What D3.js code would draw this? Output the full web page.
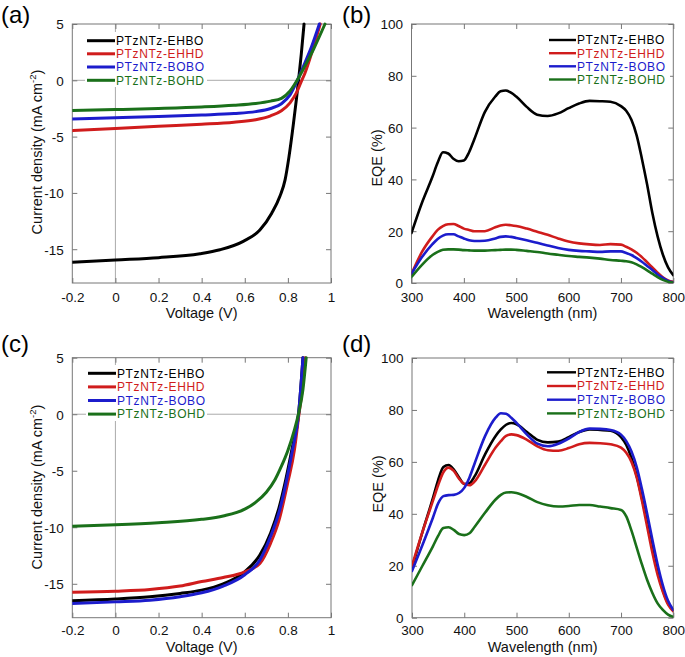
<!DOCTYPE html>
<html>
<head>
<meta charset="utf-8">
<script src="https://cdn.jsdelivr.net/npm/d3@7/dist/d3.min.js"></script>
<style>
  html, body { margin: 0; padding: 0; background: #fff; }
  svg { display: block; font-family: "Liberation Sans", Arial, Helvetica, sans-serif; }
</style>
</head>
<body>
<svg id="chart" width="685" height="657"></svg>
<script>
// ---------------- DATA ----------------
const seriesNames = ["PTzNTz-EHBO", "PTzNTz-EHHD", "PTzNTz-BOBO", "PTzNTz-BOHD"];
const seriesColors = ["#000000", "#d01c1c", "#1c1ccc", "#1a701a"];

// J-V axes
const jvXTicks = [-0.2, 0, 0.2, 0.4, 0.6, 0.8, 1];
const jvXTickLabels = ["-0.2", "0", "0.2", "0.4", "0.6", "0.8", "1"];
const jvYTicks = [-15, -10, -5, 0, 5];
const jvYTickLabels = ["-15", "-10", "-5", "0", "5"];

// Panel (a) J-V curves
const aEHBO_V = [-0.2, 0, 0.2, 0.392, 0.485, 0.593, 0.67, 0.725, 0.763, 0.787, 0.805, 0.825, 0.84, 0.85, 0.862, 0.875];
const aEHBO_J = [-16.15, -15.95, -15.75, -15.4, -15.05, -14.3, -13.3, -11.8, -10.3, -8.84, -6.8, -3.96, -1.6, 0.1, 2.3, 5.0];
const aEHHD_V = [-0.2, 0, 0.2, 0.4, 0.55, 0.65, 0.72, 0.77, 0.81, 0.84, 0.86, 0.879, 0.91, 0.95];
const aEHHD_J = [-4.47, -4.27, -4.08, -3.9, -3.72, -3.5, -3.15, -2.7, -2.0, -1.1, -0.2, 0.63, 2.4, 5.0];
const aBOBO_V = [-0.2, 0, 0.2, 0.4, 0.55, 0.65, 0.72, 0.77, 0.81, 0.848, 0.88, 0.91, 0.946];
const aBOBO_J = [-3.43, -3.33, -3.22, -3.08, -2.95, -2.78, -2.5, -2.08, -1.3, 0.17, 1.6, 3.0, 5.0];
const aBOHD_V = [-0.2, 0, 0.2, 0.4, 0.55, 0.65, 0.72, 0.77, 0.81, 0.848, 0.88, 0.92, 0.972];
const aBOHD_J = [-2.69, -2.6, -2.5, -2.37, -2.22, -2.06, -1.85, -1.6, -0.95, 0.17, 1.3, 2.8, 5.0];

// Panel (c) J-V curves
const cEHBO_V = [-0.2, 0, 0.16, 0.3, 0.4, 0.5, 0.6, 0.67, 0.72, 0.76, 0.79, 0.82, 0.85, 0.87];
const cEHBO_J = [-16.5, -16.35, -16.15, -15.85, -15.56, -15.0, -13.94, -12.46, -10.5, -8.2, -5.8, -3.0, 0.1, 5.0];
const cEHHD_V = [-0.2, 0, 0.16, 0.3, 0.4, 0.5, 0.6, 0.67, 0.72, 0.76, 0.8, 0.83, 0.85, 0.87, 0.88];
const cEHHD_J = [-15.75, -15.65, -15.5, -15.2, -14.8, -14.45, -13.94, -13.2, -11.4, -9.3, -6.0, -3.2, -0.2, 2.8, 5.0];
const cBOBO_V = [-0.2, 0, 0.16, 0.3, 0.4, 0.5, 0.6, 0.67, 0.72, 0.76, 0.79, 0.82, 0.85, 0.87];
const cBOBO_J = [-16.75, -16.6, -16.45, -16.15, -15.8, -15.2, -14.2, -12.9, -10.8, -8.6, -6.2, -3.3, 0.1, 5.0];
const cBOHD_V = [-0.2, 0, 0.2, 0.4, 0.5, 0.6, 0.65, 0.7, 0.74, 0.77, 0.8, 0.83, 0.85, 0.87, 0.885];
const cBOHD_J = [-9.9, -9.78, -9.6, -9.3, -9.0, -8.4, -7.8, -6.9, -5.8, -4.6, -3.2, -1.4, 0.1, 2.2, 5.0];

// EQE axes
const eqeXTicks = [300, 400, 500, 600, 700, 800];
const eqeXTickLabels = ["300", "400", "500", "600", "700", "800"];
const eqeYTicks = [0, 20, 40, 60, 80, 100];
const eqeYTickLabels = ["0", "20", "40", "60", "80", "100"];

// Wavelength grid shared by all EQE curves (nm)
const wavelength = [300, 320, 340, 350, 360, 370, 380, 390, 400, 410, 420, 440, 460, 470, 480, 490, 500, 520, 540, 560, 580, 600, 620, 640, 660, 680, 700, 710, 720, 730, 740, 750, 760, 770, 780, 790, 800];

// Panel (b) EQE (%)
const bEHBO = [19.3, 31, 41, 46.5, 50.5, 50, 48, 47, 47.3, 50.5, 55.5, 66, 72, 74, 74.3, 73.5, 72, 68, 65, 64.5, 65.5, 67.5, 69.3, 70.3, 70.2, 70, 68.3, 66.5, 63, 57, 48, 38, 27, 18, 11, 6, 3];
const bEHHD = [3.5, 12, 18, 20.5, 22, 22.7, 22.8, 22, 21, 20.5, 20, 20, 21.5, 22.2, 22.5, 22.3, 22, 21, 19.8, 18.6, 17.2, 16, 15.3, 14.9, 14.7, 15, 14.8, 14, 13, 11.7, 10, 8, 6, 4, 2.2, 1, 0.5];
const bBOBO = [3.5, 10, 15, 17, 18.3, 18.8, 18.8, 18, 17.2, 16.5, 16.2, 16.3, 17.2, 17.8, 18, 17.8, 17.4, 16.5, 15.5, 14.5, 13.5, 12.8, 12.4, 12.2, 12, 12.2, 12.2, 11.6, 10.8, 9.6, 8.2, 6.6, 5, 3.3, 2, 0.8, 0.3];
const bBOHD = [2.3, 7, 10.8, 12, 12.8, 13, 13, 12.9, 12.7, 12.6, 12.5, 12.5, 12.7, 12.8, 12.9, 12.9, 12.8, 12.4, 12, 11.4, 10.9, 10.4, 10.1, 9.8, 9.4, 8.9, 8.6, 8.4, 8, 7.2, 6.1, 4.9, 3.6, 2.3, 1.2, 0.5, 0.2];

// Panel (d) EQE (%)
const dEHBO = [19, 33, 46, 53, 58, 58.8, 57, 54, 51.5, 51.8, 54.5, 63, 70, 72.5, 74.3, 75, 74.5, 71.5, 68.5, 67.5, 67.8, 69.5, 71.5, 72.5, 72.3, 72, 69.5, 66.5, 61.5, 54.5, 46, 37, 27.5, 18, 10.5, 5.5, 3];
const dEHHD = [20, 33, 45, 51, 56, 57.8, 56.5, 53.5, 51.5, 51, 52.5, 59, 65.5, 68, 70, 70.6, 70.3, 68.5, 66, 64.5, 64.3, 65.3, 66.8, 67.3, 67.2, 66.8, 65.5, 63.5, 60, 54, 45, 35, 25, 16.5, 10, 5, 2.5];
const dBOBO = [18, 28, 38.5, 44, 46.8, 47.2, 47.3, 48, 50, 54, 59.5, 70, 77, 78.7, 78.5, 77, 75, 70.5, 67, 66, 67, 69, 71.5, 72.8, 72.7, 72.3, 70.5, 68, 64, 58, 49.5, 40, 30, 20.5, 12.5, 6.5, 3];
const dBOHD = [12.5, 20, 27.5, 31.5, 34.5, 34.8, 33.8, 32.2, 31.8, 32.5, 35, 40.5, 45.5, 47.3, 48.2, 48.3, 48, 46.5, 44.5, 43.3, 42.8, 43, 43.4, 43.4, 42.8, 42.2, 41.5, 39, 33.5, 27, 20.5, 14.5, 9.5, 5.5, 3, 1.2, 0.3];

// ---------------- DRAWING ----------------
const svg = d3.select("#chart");
const FONT = "'Liberation Sans', Arial, Helvetica, sans-serif";

function zipXY(xs, ys) { return xs.map((x, i) => ({ x: x, y: ys[i] })); }

function drawPanel(p) {
  const g = svg.append("g");
  const x = d3.scaleLinear().domain(p.xDomain).range([p.left, p.right]);
  const y = d3.scaleLinear().domain(p.yDomain).range([p.bottom, p.top]);

  // zero lines
  if (p.zeroLines) {
    g.append("line").attr("x1", p.left).attr("x2", p.right)
      .attr("y1", y(0)).attr("y2", y(0))
      .attr("stroke", "#a0a0a0").attr("stroke-width", 0.9);
    g.append("line").attr("x1", x(0)).attr("x2", x(0))
      .attr("y1", p.top).attr("y2", p.bottom)
      .attr("stroke", "#a0a0a0").attr("stroke-width", 0.9);
  }

  // axes with inward ticks
  const axColor = "#777";
  const left = g.append("g").attr("transform", `translate(${p.left},0)`)
    .call(d3.axisLeft(y).tickValues(p.yTicks).tickSize(-5).tickPadding(8.5)
      .tickFormat((d, i) => p.yTickLabels[i]));
  const bottom = g.append("g").attr("transform", `translate(0,${p.bottom})`)
    .call(d3.axisBottom(x).tickValues(p.xTicks).tickSize(-5).tickPadding(0)
      .tickFormat((d, i) => p.xTickLabels[i]));
  const top = g.append("g").attr("transform", `translate(0,${p.top})`)
    .call(d3.axisTop(x).tickValues(p.xTicks).tickSize(-5).tickFormat(""));
  const right = g.append("g").attr("transform", `translate(${p.right},0)`)
    .call(d3.axisRight(y).tickValues(p.yTicks).tickSize(-5).tickFormat(""));
  [left, bottom, top, right].forEach(a => {
    a.select(".domain").remove();
    a.selectAll(".tick line").attr("stroke", axColor).attr("stroke-width", 1);
    a.selectAll("text").attr("font-family", FONT).attr("font-size", 13.5).attr("fill", "#111");
  });
  left.selectAll("text").attr("dy", "0.36em");
  bottom.selectAll("text").attr("dy", null).attr("y", p.xTickBaseline - p.bottom);

  // box
  g.append("rect").attr("x", p.left).attr("y", p.top)
    .attr("width", p.right - p.left).attr("height", p.bottom - p.top)
    .attr("fill", "none").attr("stroke", axColor).attr("stroke-width", 1);

  // legend background
  g.append("rect").attr("x", p.legBox[0]).attr("y", p.legBox[1])
    .attr("width", p.legBox[2]).attr("height", p.legBox[3]).attr("fill", "#fff");

  // curves
  const line = d3.line().x(d => x(d.x)).y(d => y(d.y)).curve(d3.curveMonotoneX);
  const clipId = "clip" + p.id;
  svg.append("clipPath").attr("id", clipId).append("rect")
    .attr("x", p.left).attr("y", p.top - 2).attr("width", p.right - p.left).attr("height", p.bottom - p.top + 2);
  const curveG = g.append("g").attr("clip-path", `url(#${clipId})`);
  p.series.forEach((s, i) => {
    curveG.append("path").datum(s)
      .attr("d", line).attr("fill", "none")
      .attr("stroke", seriesColors[i]).attr("stroke-width", p.lineWidth)
      .attr("stroke-linejoin", "round").attr("stroke-linecap", "round");
  });

  // legend
  seriesNames.forEach((name, i) => {
    const yy = p.legRows[i];
    g.append("line").attr("x1", p.legX[0]).attr("x2", p.legX[1])
      .attr("y1", yy).attr("y2", yy)
      .attr("stroke", seriesColors[i]).attr("stroke-width", p.legWidth);
    g.append("text").attr("x", p.legX[1] + 1).attr("y", yy + 4.3)
      .attr("font-family", FONT).attr("font-size", 12).attr("letter-spacing", 0.6)
      .attr("fill", seriesColors[i])
      .text(name);
  });

  // x label
  g.append("text").attr("x", (p.left + p.right) / 2).attr("y", p.xLabelBaseline)
    .attr("text-anchor", "middle").attr("font-family", FONT).attr("font-size", 14.5)
    .attr("fill", "#111").text(p.xLabel);

  // y label
  const yl = g.append("text")
    .attr("transform", `translate(${p.yLabelX},${p.yLabelCY}) rotate(-90)`)
    .attr("text-anchor", "middle").attr("font-family", FONT).attr("font-size", 14.5)
    .attr("fill", "#111");
  if (p.yLabelSup) {
    yl.append("tspan").text(p.yLabel);
    yl.append("tspan").attr("font-size", 9.5).attr("dy", -6).text(p.yLabelSup);
    yl.append("tspan").attr("dy", 6).text(")");
  } else {
    yl.text(p.yLabel);
  }

  // panel letter
  g.append("text").attr("x", p.tagX).attr("y", p.tagY)
    .attr("font-family", FONT).attr("font-size", 24).attr("fill", "#000").text(p.tag);
}

const jvCommon = {
  xDomain: [-0.2, 1], yDomain: [-18, 5],
  xTicks: jvXTicks, xTickLabels: jvXTickLabels,
  yTicks: jvYTicks, yTickLabels: jvYTickLabels,
  xLabel: "Voltage (V)", yLabel: "Current density (mA cm", yLabelSup: "-2",
  zeroLines: true, lineWidth: 3, legWidth: 3
};
const eqeCommon = {
  xDomain: [300, 800], yDomain: [0, 100],
  xTicks: eqeXTicks, xTickLabels: eqeXTickLabels,
  yTicks: eqeYTicks, yTickLabels: eqeYTickLabels,
  xLabel: "Wavelength (nm)", yLabel: "EQE (%)",
  zeroLines: false, lineWidth: 2.6, legWidth: 2.4
};

drawPanel(Object.assign({}, jvCommon, {
  id: "a", tag: "(a)", tagX: 1, tagY: 22.5,
  left: 72.3, right: 331, top: 24, bottom: 283,
  xTickBaseline: 301.5, xLabelBaseline: 317.5, yLabelX: 41.5, yLabelCY: 152,
  legX: [87, 115], legRows: [40.7, 53.8, 67, 80.3], legBox: [85, 32, 122, 55],
  series: [zipXY(aEHBO_V, aEHBO_J), zipXY(aEHHD_V, aEHHD_J), zipXY(aBOBO_V, aBOBO_J), zipXY(aBOHD_V, aBOHD_J)]
}));

drawPanel(Object.assign({}, eqeCommon, {
  id: "b", tag: "(b)", tagX: 342, tagY: 22.5,
  left: 411.5, right: 673.3, top: 24, bottom: 283,
  xTickBaseline: 301.5, xLabelBaseline: 317.5, yLabelX: 382, yLabelCY: 158,
  legX: [549, 576], legRows: [40, 53.2, 66.3, 79.5], legBox: [546, 32, 124, 55],
  series: [zipXY(wavelength, bEHBO), zipXY(wavelength, bEHHD), zipXY(wavelength, bBOBO), zipXY(wavelength, bBOHD)]
}));

drawPanel(Object.assign({}, jvCommon, {
  id: "c", tag: "(c)", tagX: 1, tagY: 352,
  left: 72.3, right: 331, top: 357.7, bottom: 617.7,
  xTickBaseline: 635, xLabelBaseline: 652, yLabelX: 41.5, yLabelCY: 487,
  legX: [88, 116], legRows: [373.3, 386.9, 400.5, 414.1], legBox: [86, 365, 121, 56],
  series: [zipXY(cEHBO_V, cEHBO_J), zipXY(cEHHD_V, cEHHD_J), zipXY(cBOBO_V, cBOBO_J), zipXY(cBOHD_V, cBOHD_J)]
}));

drawPanel(Object.assign({}, eqeCommon, {
  id: "d", tag: "(d)", tagX: 342, tagY: 352,
  left: 412, right: 673.3, top: 358, bottom: 617.7,
  xTickBaseline: 635, xLabelBaseline: 652, yLabelX: 383, yLabelCY: 484,
  legX: [547, 576], legRows: [372.3, 386, 399.7, 413.4], legBox: [544, 364, 126, 56],
  series: [zipXY(wavelength, dEHBO), zipXY(wavelength, dEHHD), zipXY(wavelength, dBOBO), zipXY(wavelength, dBOHD)]
}));
</script>
</body>
</html>
